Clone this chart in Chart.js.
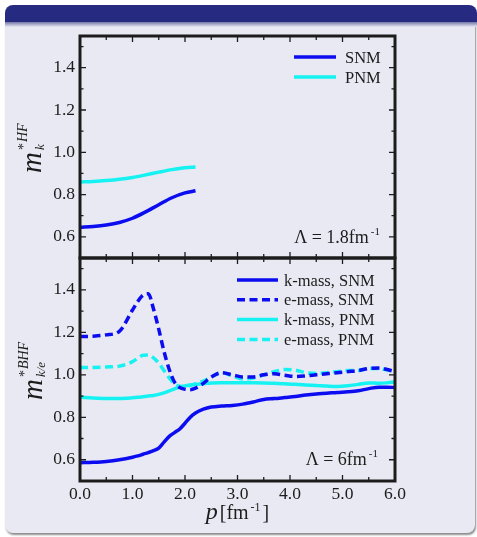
<!DOCTYPE html>
<html>
<head>
<meta charset="utf-8">
<title>Effective mass</title>
<script src="https://cdn.jsdelivr.net/npm/chart.js@4.4.0/dist/chart.umd.min.js"></script>
<style>
  body { margin: 0; background: #fff; }
  #page { position: relative; width: 477px; height: 537px; overflow: hidden; }
  .frame-body {
    position: absolute; left: 5px; top: 21px; width: 470px; height: 512px;
    background: #e9e9f3; border-radius: 0 0 8px 8px;
    box-shadow: 1px 2px 2px rgba(0, 0, 0, 0.45);
  }
  .frame-shade {
    position: absolute; left: 5px; top: 21px; width: 472px; height: 6px;
    background: linear-gradient(#5d5f97, #e9e9f3);
  }
  .frame-head {
    position: absolute; left: 5px; top: 5px; width: 472px; height: 17px;
    background: #262a80; border-radius: 8px 8px 0 0;
  }
  canvas { position: absolute; left: 0; }
  #hfChart { top: 0; }
  #bhfChart { top: 250px; }
</style>
</head>
<body>
<div id="page">
  <div class="frame-body"></div>
  <div class="frame-shade"></div>
  <div class="frame-head"></div>
  <canvas id="hfChart" width="477" height="262"></canvas>
  <canvas id="bhfChart" width="477" height="287"></canvas>
</div>
<script>
const FONT = '"Liberation Serif", "Times New Roman", serif';
const INK = '#1c1c1c';
const SNM_BLUE = '#0c0cf0';
const PNM_CYAN = '#16f2f2';

// Hartree-Fock, Lambda = 1.8 fm^-1
const pHF = [0.0, 0.25, 0.5, 0.75, 1.0, 1.25, 1.5, 1.75, 2.0, 2.2];
const hfSNM = [0.645, 0.649, 0.656, 0.668, 0.688, 0.718, 0.752, 0.785, 0.808, 0.818];
const hfPNM = [0.860, 0.862, 0.866, 0.872, 0.881, 0.893, 0.906, 0.918, 0.927, 0.930];

// Brueckner-Hartree-Fock, Lambda = 6 fm^-1
const pBHF = [0.0, 0.25, 0.5, 0.75, 1.0, 1.1, 1.2, 1.3, 1.4, 1.5, 1.6, 1.7, 1.8, 1.9, 2.0,
  2.1, 2.2, 2.35, 2.5, 2.7, 2.9, 3.1, 3.3, 3.5, 3.7, 3.9, 4.1, 4.3, 4.5, 4.7, 4.9,
  5.1, 5.3, 5.5, 5.7, 5.85, 6.0];
const kMassSNM = [0.586, 0.588, 0.592, 0.600, 0.612, 0.618, 0.626, 0.634, 0.643, 0.655,
  0.683, 0.710, 0.728, 0.745, 0.772, 0.800, 0.820, 0.838, 0.848, 0.853, 0.856, 0.862,
  0.872, 0.884, 0.888, 0.893, 0.898, 0.905, 0.910, 0.913, 0.917, 0.920, 0.925, 0.935,
  0.942, 0.942, 0.940];
const eMassSNM = [1.180, 1.182, 1.188, 1.205, 1.305, 1.345, 1.375, 1.382, 1.310, 1.215,
  1.110, 1.025, 0.965, 0.940, 0.932, 0.930, 0.937, 0.960, 0.990, 1.010, 1.000, 0.990,
  0.990, 1.000, 1.005, 0.998, 0.992, 0.995, 1.000, 1.005, 1.010, 1.015, 1.020, 1.030,
  1.032, 1.025, 1.015];
const kMassPNM = [0.895, 0.891, 0.889, 0.889, 0.892, 0.894, 0.897, 0.900, 0.903, 0.908,
  0.915, 0.924, 0.934, 0.942, 0.948, 0.952, 0.955, 0.958, 0.962, 0.963, 0.963, 0.963,
  0.963, 0.962, 0.960, 0.958, 0.955, 0.952, 0.950, 0.947, 0.945, 0.948, 0.955, 0.962,
  0.960, 0.962, 0.966];
const eMassPNM = [1.034, 1.035, 1.037, 1.041, 1.062, 1.078, 1.092, 1.093, 1.080, 1.055,
  1.020, 0.985, 0.958, 0.946, 0.945, 0.950, 0.958, 0.970, 0.990, 1.010, 0.995, 0.980,
  0.985, 1.000, 1.015, 1.025, 1.022, 1.010, 1.006, 1.010, 1.015, 1.020, 1.020, 1.030,
  1.030, 1.022, 1.015];

// axis ticks
const xMajor = [0, 1, 2, 3, 4, 5, 6];
const xMinor = [0.5, 1.5, 2.5, 3.5, 4.5, 5.5];
const yMajor = [0.6, 0.8, 1.0, 1.2, 1.4];
const yMinor = [0.5, 0.7, 0.9, 1.1, 1.3, 1.5];
const X_RANGE = [0, 6];
const Y_RANGE = [0.5, 1.55];

Chart.defaults.font.family = FONT;

const points = (xs, ys) => xs.map((x, i) => ({ x, y: ys[i] }));

function line(label, xs, ys, color, dashed) {
  return {
    label,
    data: points(xs, ys),
    borderColor: color,
    backgroundColor: color,
    borderWidth: 3.5,
    borderDash: dashed ? [8, 4.5] : [],
    pointRadius: 0,
    cubicInterpolationMode: 'monotone',
    fill: false
  };
}

// write pieces left to right: [text, font, dy, gapAfter]
function drawRun(ctx, parts, x, y) {
  parts.forEach(([text, font, dy, gap]) => {
    ctx.font = font;
    ctx.fillText(text, x, y + dy);
    x += ctx.measureText(text).width + (gap || 0);
  });
  return x;
}

function runWidth(ctx, parts) {
  return parts.reduce((w, [text, font, , gap]) => {
    ctx.font = font;
    return w + ctx.measureText(text).width + (gap || 0);
  }, 0);
}

// rotated m^{*sup}_{sub} axis title
function drawMassTitle(ctx, baseX, startY, sup, sub) {
  ctx.save();
  ctx.translate(baseX, startY);
  ctx.rotate(-Math.PI / 2);
  ctx.fillStyle = INK;
  ctx.textBaseline = 'alphabetic';
  ctx.textAlign = 'left';
  ctx.font = `italic 29px ${FONT}`;
  ctx.fillText('m', 0, 0);
  const w = ctx.measureText('m').width;
  ctx.font = `14px ${FONT}`;
  ctx.fillText('*', w + 2, -13);
  const ws = ctx.measureText('*').width;
  ctx.font = `italic 14px ${FONT}`;
  ctx.fillText(sup, w + 3 + ws, -14);
  ctx.font = `italic 13px ${FONT}`;
  ctx.fillText(sub, w + 2, 3);
  ctx.restore();
}

const panelFrame = {
  id: 'panelFrame',
  afterDatasetsDraw(chart, args, opts) {
    const { ctx, chartArea: a, scales: { x, y } } = chart;
    ctx.save();
    ctx.strokeStyle = INK;
    ctx.lineWidth = 1.3;
    const xt = (vals, len) => vals.forEach(v => {
      const px = x.getPixelForValue(v);
      ctx.beginPath();
      ctx.moveTo(px, a.top); ctx.lineTo(px, a.top + len);
      ctx.moveTo(px, a.bottom); ctx.lineTo(px, a.bottom - len);
      ctx.stroke();
    });
    const yt = (vals, len) => vals.forEach(v => {
      const py = y.getPixelForValue(v);
      ctx.beginPath();
      ctx.moveTo(a.left, py); ctx.lineTo(a.left + len, py);
      ctx.moveTo(a.right, py); ctx.lineTo(a.right - len, py);
      ctx.stroke();
    });
    xt(xMajor, 6); xt(xMinor, 4);
    yt(yMajor, 6); yt(yMinor, 3.5);
    ctx.lineWidth = 3;
    ctx.strokeRect(a.left, a.top, a.right - a.left, a.bottom - a.top);

    // legend inside the panel, top right
    const lg = opts.legend;
    ctx.fillStyle = INK;
    ctx.textBaseline = 'alphabetic';
    ctx.textAlign = 'left';
    chart.data.datasets.forEach((ds, i) => {
      const ly = a.top + lg.top + i * lg.gap;
      ctx.strokeStyle = ds.borderColor;
      ctx.lineWidth = 3.5;
      ctx.setLineDash(ds.borderDash);
      ctx.beginPath();
      ctx.moveTo(a.right - lg.x0, ly);
      ctx.lineTo(a.right - lg.x1, ly);
      ctx.stroke();
      ctx.setLineDash([]);
      ctx.font = `16.5px ${FONT}`;
      ctx.fillText(ds.label, a.right - lg.text, ly + 5.5);
    });

    // cutoff note, bottom right
    const nt = opts.note;
    const note = [[nt.text, `18px ${FONT}`, 0, 2], ['-1', `11px ${FONT}`, -8, 0]];
    drawRun(ctx, note, a.right - nt.right - runWidth(ctx, note), a.bottom - nt.bottom);

    drawMassTitle(ctx, opts.title.x, opts.title.y, opts.title.sup, opts.title.sub);

    if (opts.xTitle) {
      const title = [
        ['p', `italic 24px ${FONT}`, 0, 2],
        ['[fm', `20px ${FONT}`, 0, 2],
        ['-1', `12px ${FONT}`, -8, 2],
        [']', `20px ${FONT}`, 0, 0]
      ];
      const cx = (a.left + a.right) / 2;
      drawRun(ctx, title, cx - runWidth(ctx, title) / 2, a.bottom + 38);
    }
    ctx.restore();
  }
};

// keep the plot box fixed: no extra room for overhanging tick labels
function pinScale(s, size) {
  if (s.isHorizontal()) s.height = size; else s.width = size;
  s.paddingTop = s.paddingBottom = s.paddingLeft = s.paddingRight = 0;
}

function makeOptions(showX, decor) {
  return {
    responsive: false,
    animation: false,
    layout: { padding: decor.padding },
    plugins: {
      legend: { display: false },
      tooltip: { enabled: false },
      panelFrame: decor
    },
    scales: {
      x: {
        type: 'linear',
        min: X_RANGE[0],
        max: X_RANGE[1],
        grid: { display: false, drawTicks: false },
        border: { display: false },
        afterBuildTicks: s => { s.ticks = xMajor.map(v => ({ value: v })); },
        afterFit: s => pinScale(s, decor.xHeight),
        ticks: {
          display: showX,
          padding: 3,
          color: INK,
          font: { family: FONT, size: 17.5 },
          callback: v => v.toFixed(1)
        }
      },
      y: {
        min: Y_RANGE[0],
        max: Y_RANGE[1],
        grid: { display: false, drawTicks: false },
        border: { display: false },
        afterBuildTicks: s => { s.ticks = yMajor.map(v => ({ value: v })); },
        afterFit: s => pinScale(s, 80),
        ticks: {
          padding: 5,
          color: INK,
          font: { family: FONT, size: 17.5 },
          callback: v => v.toFixed(1)
        }
      }
    }
  };
}

new Chart(document.getElementById('hfChart'), {
  type: 'line',
  data: {
    datasets: [
      line('SNM', pHF, hfSNM, SNM_BLUE, false),
      line('PNM', pHF, hfPNM, PNM_CYAN, false)
    ]
  },
  options: makeOptions(false, {
    padding: { left: 0, top: 36, right: 82, bottom: 4 },
    xHeight: 0,
    legend: { top: 21, gap: 20, x0: 101, x1: 59, text: 50 },
    note: { text: '\u039B = 1.8fm', right: 15, bottom: 15 },
    title: { x: 41, y: 173, sup: 'HF', sub: 'k' },
    xTitle: false
  }),
  plugins: [panelFrame]
});

new Chart(document.getElementById('bhfChart'), {
  type: 'line',
  data: {
    datasets: [
      line('k-mass, SNM', pBHF, kMassSNM, SNM_BLUE, false),
      line('e-mass, SNM', pBHF, eMassSNM, SNM_BLUE, true),
      line('k-mass, PNM', pBHF, kMassPNM, PNM_CYAN, false),
      line('e-mass, PNM', pBHF, eMassPNM, PNM_CYAN, true)
    ]
  },
  options: makeOptions(true, {
    padding: { left: 0, top: 8, right: 82, bottom: 0 },
    xHeight: 56,
    legend: { top: 22, gap: 19.8, x0: 158, x1: 117, text: 111 },
    note: { text: '\u039B = 6fm', right: 17, bottom: 16 },
    title: { x: 41.5, y: 150, sup: 'BHF', sub: 'k/e' },
    xTitle: true
  }),
  plugins: [panelFrame]
});
</script>
</body>
</html>
